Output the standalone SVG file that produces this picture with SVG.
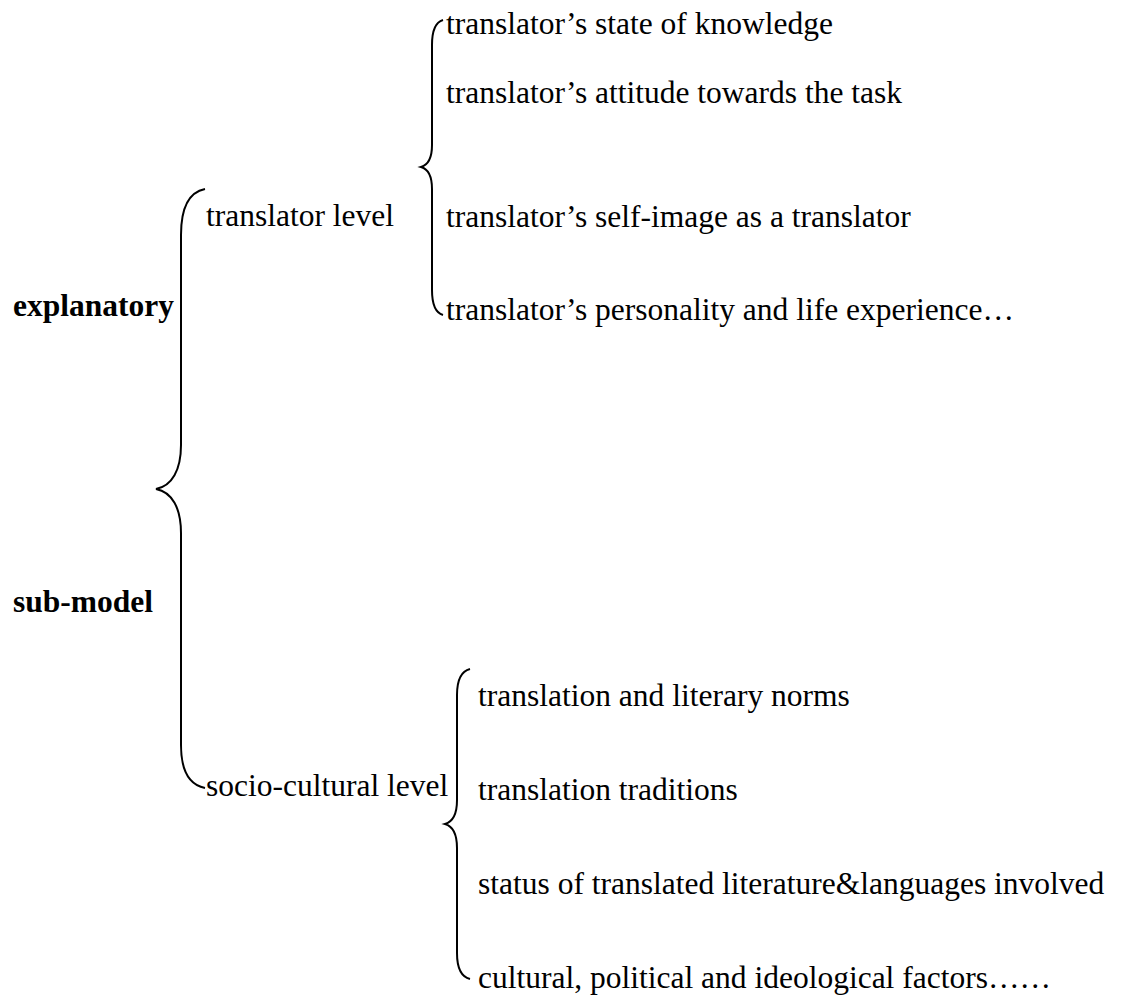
<svg xmlns="http://www.w3.org/2000/svg" width="1122" height="1001" viewBox="0 0 1122 1001">
<style>
text{font-family:"Liberation Serif","Times New Roman",serif;font-size:31.5px;fill:#000}
.b{font-weight:bold}
.br{fill:none;stroke:#000;stroke-width:2}
</style>
<rect width="1122" height="1001" fill="#fff"/>
<g id="root"><text class="b" x="13" y="316">explanatory</text><text class="b" x="13" y="612">sub-model</text></g>
<g id="translator-level"><text x="206" y="226">translator level</text></g>
<g id="socio-cultural-level"><text x="206" y="796">socio-cultural level</text></g>
<g id="t1"><text x="446" y="34">translator’s state of knowledge</text></g>
<g id="t2"><text x="446" y="103">translator’s attitude towards the task</text></g>
<g id="t3"><text x="446" y="227">translator’s self-image as a translator</text></g>
<g id="t4"><text x="446" y="320">translator’s personality and life experience…</text></g>
<g id="s1"><text x="478" y="706">translation and literary norms</text></g>
<g id="s2"><text x="478" y="800">translation traditions</text></g>
<g id="s3"><text x="478" y="894">status of translated literature&amp;languages involved</text></g>
<g id="s4"><text x="478" y="988">cultural, political and ideological factors……</text></g>
<g id="connectors">
<path class="br" d="M205,189 C190,192 181,205 181,235 L181,445 C181,470 172,486 156,489 C172,492 181,508 181,533 L181,745 C181,772 190,785 205,788"/>
<path class="br" d="M443,20 C436,22 432,30 432,45 L432,145 C432,158 428,165 421,167 C428,169 432,176 432,189 L432,290 C432,305 436,313 443,315"/>
<path class="br" d="M470,669 C462,671 457,680 457,695 L457,800 C457,815 452,822 445,824 C452,826 457,833 457,848 L457,953 C457,968 462,977 470,979"/>
</g>
</svg>
